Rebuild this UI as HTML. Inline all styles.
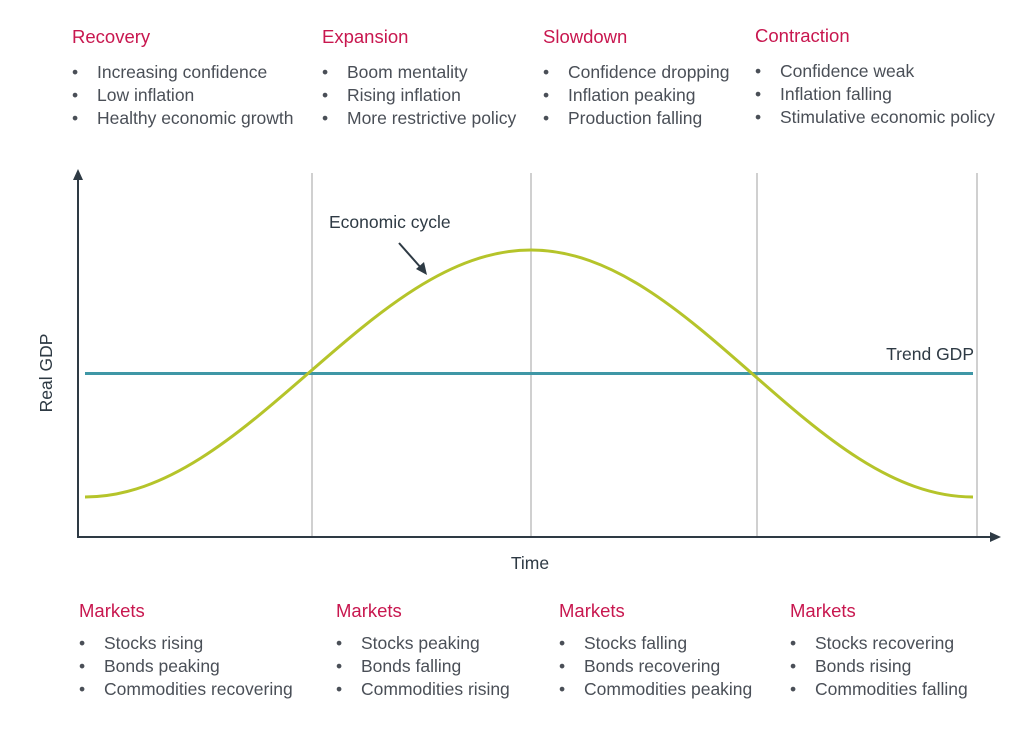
<!DOCTYPE html>
<html><head><meta charset="utf-8"><style>
body{margin:0;background:#fff;}
svg text{font-family:"Liberation Sans",sans-serif;}
.h{fill:#c8174f;font-size:18.5px;}
.t{fill:#4a4f57;font-size:17.5px;}
.l{fill:#2e3a44;font-size:17.5px;}
</style></head><body>
<svg width="1024" height="732" viewBox="0 0 1024 732" xmlns="http://www.w3.org/2000/svg">
<g stroke="#a0a0a0" stroke-width="1">
<line x1="312" y1="173" x2="312" y2="537"/>
<line x1="531" y1="173" x2="531" y2="537"/>
<line x1="757" y1="173" x2="757" y2="537"/>
<line x1="977" y1="173" x2="977" y2="537"/>
</g>
<g stroke="#2e3a44" stroke-width="2" fill="#2e3a44">
<line x1="78" y1="178" x2="78" y2="538"/>
<polygon points="78,169 73,180 83,180" stroke="none"/>
<line x1="77" y1="537" x2="992" y2="537"/>
<polygon points="1001,537 990,532 990,542" stroke="none"/>
<line x1="399" y1="243" x2="422" y2="269"/>
<polygon points="427,275 416,269 424,262" stroke="none"/>
</g>
<line x1="85" y1="373.5" x2="973" y2="373.5" stroke="#3f97a6" stroke-width="3"/>
<path d="M85,497 C247.4,497 368.6,250 531,250 C692,250 812,497 973,497" fill="none" stroke="#b5c42a" stroke-width="3"/>
<text class="l" x="329" y="228">Economic cycle</text>
<text class="l" x="974" y="360" text-anchor="end">Trend GDP</text>
<text class="l" x="530" y="569" text-anchor="middle">Time</text>
<text class="l" transform="translate(52,373) rotate(-90)" text-anchor="middle">Real GDP</text>

<text class="h" x="72" y="43">Recovery</text>
<text class="t" y="78"><tspan x="72">•</tspan><tspan x="97">Increasing confidence</tspan></text>
<text class="t" y="101"><tspan x="72">•</tspan><tspan x="97">Low inflation</tspan></text>
<text class="t" y="124"><tspan x="72">•</tspan><tspan x="97">Healthy economic growth</tspan></text>

<text class="h" x="322" y="43">Expansion</text>
<text class="t" y="78"><tspan x="322">•</tspan><tspan x="347">Boom mentality</tspan></text>
<text class="t" y="101"><tspan x="322">•</tspan><tspan x="347">Rising inflation</tspan></text>
<text class="t" y="124"><tspan x="322">•</tspan><tspan x="347">More restrictive policy</tspan></text>

<text class="h" x="543" y="43">Slowdown</text>
<text class="t" y="78"><tspan x="543">•</tspan><tspan x="568">Confidence dropping</tspan></text>
<text class="t" y="101"><tspan x="543">•</tspan><tspan x="568">Inflation peaking</tspan></text>
<text class="t" y="124"><tspan x="543">•</tspan><tspan x="568">Production falling</tspan></text>

<text class="h" x="755" y="42">Contraction</text>
<text class="t" y="77"><tspan x="755">•</tspan><tspan x="780">Confidence weak</tspan></text>
<text class="t" y="100"><tspan x="755">•</tspan><tspan x="780">Inflation falling</tspan></text>
<text class="t" y="123"><tspan x="755">•</tspan><tspan x="780">Stimulative economic policy</tspan></text>

<text class="h" x="79" y="617">Markets</text>
<text class="t" y="649"><tspan x="79">•</tspan><tspan x="104">Stocks rising</tspan></text>
<text class="t" y="672"><tspan x="79">•</tspan><tspan x="104">Bonds peaking</tspan></text>
<text class="t" y="695"><tspan x="79">•</tspan><tspan x="104">Commodities recovering</tspan></text>

<text class="h" x="336" y="617">Markets</text>
<text class="t" y="649"><tspan x="336">•</tspan><tspan x="361">Stocks peaking</tspan></text>
<text class="t" y="672"><tspan x="336">•</tspan><tspan x="361">Bonds falling</tspan></text>
<text class="t" y="695"><tspan x="336">•</tspan><tspan x="361">Commodities rising</tspan></text>

<text class="h" x="559" y="617">Markets</text>
<text class="t" y="649"><tspan x="559">•</tspan><tspan x="584">Stocks falling</tspan></text>
<text class="t" y="672"><tspan x="559">•</tspan><tspan x="584">Bonds recovering</tspan></text>
<text class="t" y="695"><tspan x="559">•</tspan><tspan x="584">Commodities peaking</tspan></text>

<text class="h" x="790" y="617">Markets</text>
<text class="t" y="649"><tspan x="790">•</tspan><tspan x="815">Stocks recovering</tspan></text>
<text class="t" y="672"><tspan x="790">•</tspan><tspan x="815">Bonds rising</tspan></text>
<text class="t" y="695"><tspan x="790">•</tspan><tspan x="815">Commodities falling</tspan></text>
</svg>
</body></html>
